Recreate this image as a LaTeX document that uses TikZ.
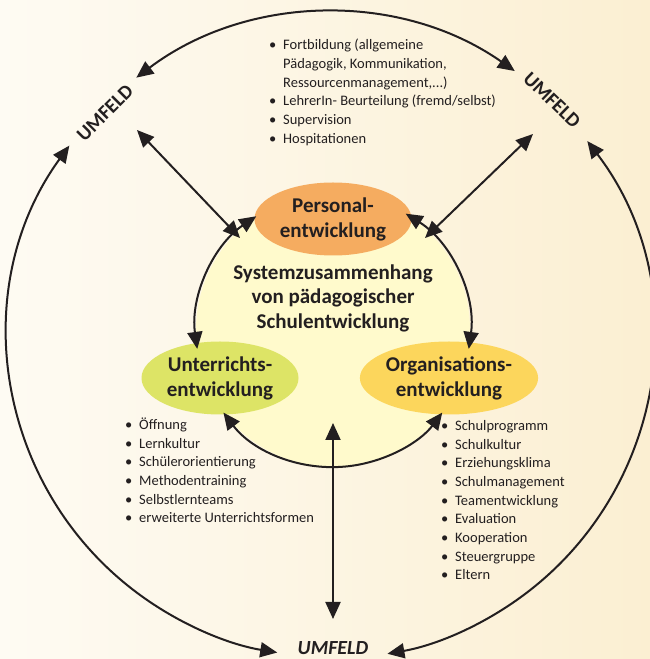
\documentclass[tikz,border=0pt]{standalone}
\usepackage{fontspec}
\setmainfont{Carlito}
\usetikzlibrary{arrows.meta}
\usetikzlibrary{shapes.geometric}

\definecolor{bgl}{RGB}{254,251,243}
\definecolor{bgr}{RGB}{251,239,210}
\definecolor{kreisgelb}{RGB}{255,250,204}
\definecolor{persorange}{RGB}{245,172,96}
\definecolor{untgruen}{RGB}{221,228,102}
\definecolor{orggelb}{RGB}{252,214,92}
\definecolor{schrift}{RGB}{35,31,32}

\newcommand{\bul}{\makebox[14pt][l]{\textbullet}}
\newcommand{\ein}{\hspace*{14pt}}

\begin{document}
\begin{tikzpicture}[x=1pt,y=1pt]
		\tikzset{bereich/.style = {shape=ellipse,minimum width=157,minimum height=73,inner sep=0pt,align=center,font=\fontsize{21}{25}\selectfont\bfseries,text=schrift}}
		\tikzset{liste/.style = {anchor=base west,inner sep=0pt,align=left,font=\fontsize{14.5}{18.7}\selectfont,text=schrift}}
		\tikzset{umfeld/.style = {inner sep=0pt,font=\fontsize{20}{24}\selectfont\bfseries,text=schrift}}
		\tikzset{pfeil/.style = {{Triangle[length=17pt,width=15pt]}-{Triangle[length=17pt,width=15pt]},line width=2pt,draw=schrift}}
		\useasboundingbox (0,0) rectangle (650,659);
		\shade[left color=bgl,right color=bgr] (0,0) rectangle (650,659);
		% circles
		\node[circle,minimum size=644,inner sep=0pt] (ring) at (330,324) {};
		\node[circle,minimum size=274,inner sep=0pt,fill=kreisgelb] (kreis) at (333,329) {};
		% nodes
		\node[bereich,fill=persorange] (pers) at (333,440) {Personal-\\entwicklung};
		\node[bereich,fill=untgruen] (unt) at (220,281) {Unterrichts-\\entwicklung};
		\node[bereich,fill=orggelb] (org) at (449,281) {Organisations-\\entwicklung};
		\node[align=center,inner sep=0pt,font=\fontsize{21}{24.5}\selectfont\bfseries,text=schrift] (sys) at (333,361) {Systemzusammenhang\\von pädagogischer\\Schulentwicklung};
		\node[umfeld,rotate=45] (umfL) at (105,546) {UMFELD};
		\node[umfeld,rotate=-44] (umfR) at (552,559) {UMFELD};
		\node[umfeld,font=\fontsize{20}{24}\selectfont\bfseries\itshape] (umfB) at (333,11) {UMFELD};
		% lists (anchored at the last line)
		\node[liste] (lpers) at (269,515.7) {\bul Fortbildung (allgemeine\\\ein Pädagogik, Kommunikation,\\\ein Ressourcenmanagement,...)\\\bul LehrerIn- Beurteilung (fremd/selbst)\\\bul Supervision\\\bul Hospitationen};
		\node[liste] (lunt) at (125,136) {\bul Öffnung\\\bul Lernkultur\\\bul Schülerorientierung\\\bul Methodentraining\\\bul Selbstlernteams\\\bul erweiterte Unterrichtsformen};
		\node[liste] (lorg) at (441,79) {\bul Schulprogramm\\\bul Schulkultur\\\bul Erziehungsklima\\\bul Schulmanagement\\\bul Teamentwicklung\\\bul Evaluation\\\bul Kooperation\\\bul Steuergruppe\\\bul Eltern};
		% free ends
		\coordinate (dlu) at (240,421);
		\coordinate (dlo) at (137,529);
		\coordinate (dru) at (425,421);
		\coordinate (dro) at (533,525);
		\coordinate (vo) at (333,236);
		\coordinate (vu) at (333,40);
		% edges
		\draw[pfeil] (kreis.124) arc[start angle=124,end angle=188,radius=137];
		\draw[pfeil] (kreis.58) arc[start angle=58,end angle=-8,radius=137];
		\draw[pfeil] (kreis.217) arc[start angle=217,end angle=323,radius=137];
		\draw[pfeil] (ring.55) arc[start angle=55,end angle=127,radius=322];
		\draw[pfeil] (ring.144) arc[start angle=144,end angle=260.6,radius=322];
		\draw[pfeil] (ring.37.4) arc[start angle=37.4,end angle=-80,radius=322];
		\draw[pfeil] (dlu) -- (dlo);
		\draw[pfeil] (dru) -- (dro);
		\draw[pfeil] (vo) -- (vu);
\end{tikzpicture}
\end{document}
